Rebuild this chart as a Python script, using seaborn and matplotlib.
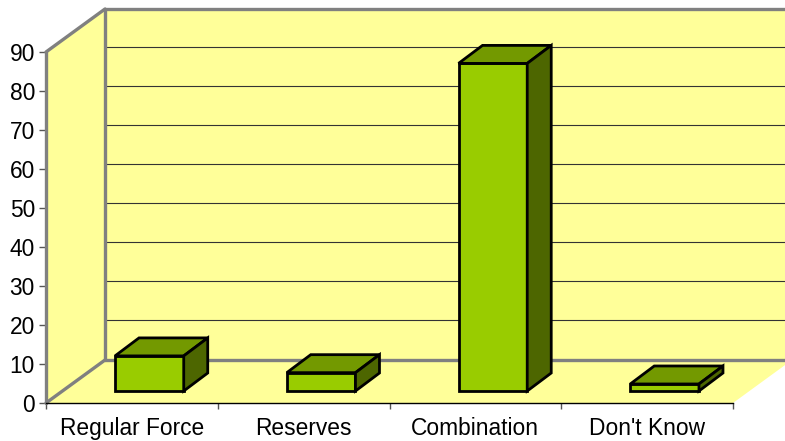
import matplotlib
matplotlib.use("Agg")
import matplotlib.pyplot as plt
import seaborn as sns
import pandas as pd
from matplotlib.patches import Polygon
from matplotlib.transforms import Affine2D

categories = ["Regular Force", "Reserves", "Combination", "Don't Know"]
values = [9, 4.7, 84, 1.8]
y_ticks = [0, 10, 20, 30, 40, 50, 60, 70, 80, 90]

WALL = "#FFFF99"; GRAY = "#808080"
FRONT = "#99CC00"; TOP = "#739900"; SIDE = "#4D6600"

sns.set_theme(style="white")
plt.rcParams["font.family"] = ["Liberation Sans", "DejaVu Sans"]

W, H = 785, 441
fig = plt.figure(figsize=(W / 100, H / 100), dpi=100, facecolor="white")
ax = fig.add_axes([46 / W, (H - 403) / H, (733 - 46) / W, (403 - 52) / H], facecolor="none")

df = pd.DataFrame({"category": categories, "value": values})
sns.barplot(data=df, x="category", y="value", color=FRONT, saturation=1, width=0.4, ax=ax,
            edgecolor="black", linewidth=2, zorder=5)
ax.set_xlim(-0.5, 3.5)
ax.set_ylim(0, 90)
ax.set_xlabel(""); ax.set_ylabel("")

td = ax.transData
def shift(dx, dy):
    return td + Affine2D().translate(dx, dy)

BX, BY = 59, 43          # wall depth in pixels
x0, x1 = -0.5, 3.5

# Walls and floor
wall_kw = dict(facecolor=WALL, edgecolor="none", clip_on=False, zorder=1)
ax.add_patch(Polygon([(x0, 0), (x1, 0), (x1, 90), (x0, 90)], transform=shift(BX, BY), **wall_kw))
floor = [td.transform((x0, 0)), td.transform((x1, 0)),
         td.transform((x1, 0)) + (BX, BY), td.transform((x0, 0)) + (BX, BY)]
ax.add_patch(Polygon(floor, transform=Affine2D(), **wall_kw))
left = [td.transform((x0, 0)), td.transform((x0, 90)),
        td.transform((x0, 90)) + (BX, BY), td.transform((x0, 0)) + (BX, BY)]
ax.add_patch(Polygon(left, transform=Affine2D(), **wall_kw))

# Gridlines on the back wall
for v in y_ticks[1:-1]:
    ax.plot([x0, x1], [v, v], transform=shift(BX, BY + 1), color="#333333", lw=0.8, clip_on=False, zorder=2)

# Grey frame
g = dict(color=GRAY, lw=2.4, clip_on=False, zorder=3, solid_capstyle="round")
ax.plot([x0, x1], [0, 0], transform=shift(BX, BY), **g)
ax.plot([x0, x1], [90, 90], transform=shift(BX, BY), **g)
ax.plot([x0, x0], [0, 90], transform=shift(BX, BY), **g)
ax.plot([x0, x0], [0, 90], transform=td, **g)
for v in (0, 90):
    a = td.transform((x0, v)); b = a + (BX, BY)
    ax.plot([a[0], b[0]], [a[1], b[1]], transform=Affine2D(), **g)

# 3-D bars: front face from barplot, moved in depth, plus top and side faces
FX, FY = 17.5, 12        # depth of front face
DX, DY = 24, 18          # bar depth
for patch in list(ax.patches)[:len(categories)]:
    xl = patch.get_x(); xr = xl + patch.get_width(); h = patch.get_height()
    patch.set_transform(shift(FX, FY)); patch.set_clip_on(False)
    patch.set_joinstyle("miter")
    b = td.transform((xr, 0)) + (FX, FY)
    c = td.transform((xr, h)) + (FX, FY)
    d = td.transform((xl, h)) + (FX, FY)
    off = (DX, DY)
    kw = dict(transform=Affine2D(), edgecolor="black", linewidth=2, clip_on=False, joinstyle="miter", zorder=5)
    ax.add_patch(Polygon([d, c, c + off, d + off], facecolor=TOP, **kw))
    ax.add_patch(Polygon([b, c, c + off, b + off], facecolor=SIDE, **kw))

# Axes
for s in ("top", "right", "left"):
    ax.spines[s].set_visible(False)
ax.spines["bottom"].set_visible(True)
ax.spines["bottom"].set_color("black")
ax.spines["bottom"].set_linewidth(1.0)
ax.spines["bottom"].set_zorder(4)
ax.set_yticks(y_ticks)
ax.set_xticks(range(len(categories)))
ax.set_xticklabels(categories)
ax.set_xticks([-0.5, 0.5, 1.5, 2.5, 3.5], minor=True)
ax.tick_params(axis="x", which="major", length=0, pad=10, labelsize=16.4, labelcolor="black")
ax.tick_params(axis="x", which="minor", length=4.5, width=1, color="#555555", bottom=True)
ax.tick_params(axis="y", length=5, width=1, color="#555555", pad=3, labelsize=16.4, labelcolor="black", left=True)

fig.savefig("out.png", dpi=100)
